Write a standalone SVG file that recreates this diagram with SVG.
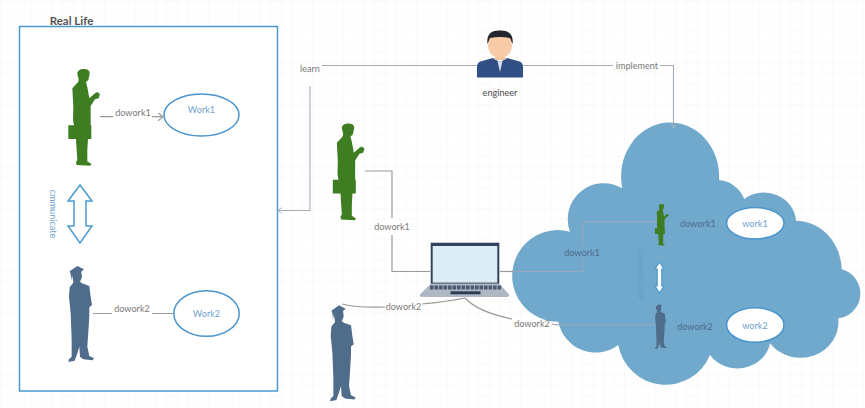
<svg xmlns="http://www.w3.org/2000/svg" xmlns:xlink="http://www.w3.org/1999/xlink" width="865" height="408" viewBox="0 0 865 408">
<style>
text{font-family:Lato,"Liberation Sans",sans-serif;font-size:9.1px;text-anchor:middle;dominant-baseline:central}
.lab{fill:#7a7a7a}
.inner{fill:#4f6a8c}
.blue{fill:#6f9fcf}
.con{fill:none;stroke:#999;stroke-width:1.2}
.soft{fill:none;stroke:#a3adb8;stroke-width:1.1}
.oval{fill:#fff;stroke:#4a95cf;stroke-width:1.5}
.dbl{fill:#fff;stroke:#4a9ad0;stroke-width:1.5}
.green{fill:#3f7d22}
.grad{fill:#4f6c8b}
</style>
<defs>
<pattern id="grid" width="10.4" height="10.4" patternUnits="userSpaceOnUse"><path d="M10.4 0H0V10.4" fill="none" stroke="#f5f6f6" stroke-width="1"/></pattern>
<marker id="open" markerWidth="10" markerHeight="10" refX="8" refY="4" orient="auto" markerUnits="userSpaceOnUse"><path d="M3 0L8 4L3 8" fill="none" stroke="#999" stroke-width="1.2"/></marker>
<marker id="small" markerWidth="8" markerHeight="8" refX="6" refY="3" orient="auto" markerUnits="userSpaceOnUse"><path d="M2 0L6 3L2 6" fill="none" stroke="#aab4c4" stroke-width=".9"/></marker>
<path id="man" d="M232,222C232,210 245,205 258,208C268,210 271,218 268,226L265,240L258,246L262,262L268,295L285,280L292,276L300,282L296,295L285,298L272,318L272,376L274,376L274,417L264,417L262,450L262,484L275,493L270,497L230,495L228,486L232,480L230,450L228,417L205,417L205,376L222,376L219,360L220,320L217,265L235,245L236,238Z"/>
<path id="scholar" d="M209,214L232,198L252,208L244,215L246,232L240,245L246,250L268,258L272,290L276,315L268,322L268,345L266,380L262,440L268,468L282,475L278,481L250,478L240,470L238,440L232,460L224,482L205,486L207,478L215,470L215,420L214,390L212,340L207,290L209,262L220,248L219,240L216,225L214,242L212,222Z"/>
</defs>
<rect width="865" height="408" fill="#fff"/>
<rect width="865" height="408" fill="url(#grid)"/>

<g id="cloud">
<path fill="#70a9cc" d="M622.3 188.3A49 54 0 1 1 719 180A30 30 0 0 1 744.3 199A32 30 0 0 1 796 220.7A46 50 0 0 1 841.7 269.3A25 25 0 0 1 838.3 318.3A38 36 0 0 1 770 343.3A33 30 0 0 1 710 355A48 48 0 0 1 618.3 345A38 38 0 0 1 558.3 321.7A45.8 45.8 0 1 1 570 231.7A36 36 0 0 1 622.3 188.3Z"/>
</g>

<g id="real-life">
<rect x="19.5" y="26.5" width="258" height="364.5" fill="#fff" stroke="#4a9ad0" stroke-width="1.5"/>
<text x="71.5" y="20" style="font-size:11.5px;font-weight:700;fill:#555">Real Life</text>
</g>

<g id="connectors">
<path class="con" d="M100 116.7H113M152 116.7H163" marker-end="url(#open)"/>
<path class="con" d="M93 313.5H112M152 313.5H174"/>
<path class="soft" d="M478 65.5H322M310 86V210.5H278" marker-end="url(#small)"/>
<path class="soft" d="M523 65.5H613M660 65.5H673.5V128" marker-end="url(#small)"/>
<path class="con" d="M365 171H392V218M392 235V271.5H430"/>
<path class="con" d="M500 271.5H513"/>
<path class="soft" d="M513 271.5H583V258M583 246V221.7H657" style="stroke:#96a9b8"/>
<path class="con" d="M342 304Q358 308 385 307M422 304Q445 302 465 298"/>
<path class="con" d="M465 298Q478 312 512 319M552 324L558 325"/>
<path class="soft" d="M558 325H655" style="stroke:#96a9b8"/>
</g>

<g id="person1"><use xlink:href="#man" href="#man" class="green" transform="scale(.3333)"/></g>
<g id="person2"><use xlink:href="#scholar" href="#scholar" class="grad" transform="translate(0,200) scale(.3333)"/></g>
<g id="person3"><use xlink:href="#man" href="#man" class="green" transform="translate(264.5,54.5) scale(.3333)"/></g>
<g id="person4"><use xlink:href="#scholar" href="#scholar" class="grad" transform="translate(261.7,239.3) scale(.3333)"/></g>
<g id="person5"><use xlink:href="#man" href="#man" class="green" transform="translate(625.6,174.3) scale(.1433)"/></g>
<g id="person6"><use xlink:href="#scholar" href="#scholar" class="grad" transform="translate(622.9,273.3) scale(.156)"/></g>

<g id="work1"><ellipse class="oval" cx="201.5" cy="115" rx="37.5" ry="21"/><text class="blue" x="201.5" y="109">Work1</text></g>
<g id="work2"><ellipse class="oval" cx="206.5" cy="313.5" rx="32.7" ry="22.8"/><text class="blue" x="206.5" y="313.5">Work2</text></g>
<g id="communicate1"><polygon class="dbl" points="80,185 92,201 86,201 86,226 92,226 80,243 68,226 74,226 74,201 68,201"/><text class="blue" transform="translate(53,214) rotate(90)">cmmunicate</text></g>

<g id="engineer">
<path d="M477 77.5V67Q477 62 482 61L493 58L500 62L507 58L518 61Q523 62 523 67V77.5Z" fill="#324f85"/>
<path d="M493 58.5L500 62L507 58.5L503 59L500 72L497 59Z" fill="#cfe0ea"/>
<rect x="495" y="52" width="10" height="8" fill="#f2c49c"/>
<ellipse cx="500" cy="45" rx="12" ry="13" fill="#f8cba6"/>
<path d="M487.5 44C486 33 493 30 500 30.5C508 30 514 34 512.5 44L510 38Q500 36 490 38Z" fill="#23272d"/>
<text x="500" y="92" style="fill:#4a4a4a">engineer</text>
</g>

<g id="laptop">
<rect x="430.7" y="242.7" width="68.6" height="41" fill="#35425e"/>
<rect x="432.7" y="246" width="64.6" height="36.6" fill="#dcedf7"/>
<path d="M430.5 284H499.5L509.5 295L508 297H421L419.5 295Z" fill="#aeb8c2"/>
<path d="M430 287.5H502" stroke="#4a5a72" stroke-width="4" stroke-dasharray="3.6 .9"/>
<rect x="450.5" y="291.3" width="30" height="3" fill="#2f3c55"/>
</g>

<g id="work1-cloud"><ellipse class="oval" cx="755.3" cy="223.3" rx="28.7" ry="15.7"/><text class="blue" x="755" y="223.5">work1</text></g>
<g id="work2-cloud"><ellipse class="oval" cx="755.3" cy="325" rx="28.7" ry="17.3"/><text class="blue" x="755" y="325.5">work2</text></g>
<g id="communicate2"><polygon fill="#fff" stroke="#4a9ad0" stroke-width="1.2" points="659.5,262 664,269 661.8,269 661.8,286 664,286 659.5,293 655,286 657.2,286 657.2,269 655,269"/><text transform="translate(641,275) rotate(90)" style="fill:#5f9dc6">cmmunicate</text></g>

<g id="labels">
<text class="lab" x="133" y="112">dowork1</text>
<text class="lab" x="132" y="308.5">dowork2</text>
<text class="lab" x="310" y="68.5">learn</text>
<text class="lab" x="637" y="65.5">implement</text>
<text class="lab" x="392" y="226.5">dowork1</text>
<text class="lab" x="403.5" y="306.5">dowork2</text>
<text class="lab" x="532" y="323">dowork2</text>
<text class="inner" x="582" y="252">dowork1</text>
<text class="inner" x="698" y="223.5">dowork1</text>
<text class="inner" x="695" y="326.5">dowork2</text>
</g>
</svg>
